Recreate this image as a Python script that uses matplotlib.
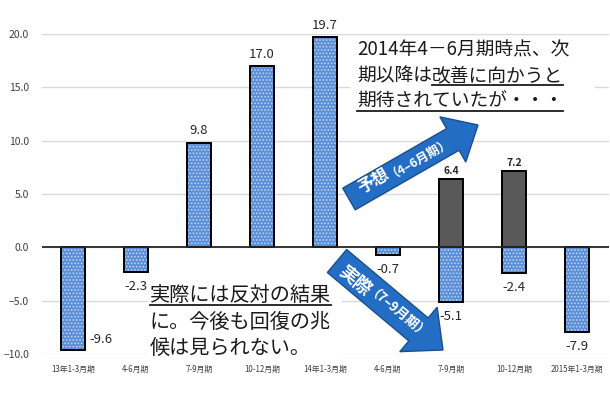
import numpy as np
import matplotlib
matplotlib.use("Agg")
import matplotlib.pyplot as plt
import matplotlib.transforms as mtransforms
from matplotlib.patches import FancyArrow, Rectangle
from matplotlib.lines import Line2D

plt.rcParams['font.family'] = ['Noto Sans CJK JP', 'DejaVu Sans']
plt.rcParams['hatch.linewidth'] = 0.8

# --- data ---
quarters = ["13年1-3月期", "4-6月期", "7-9月期", "10-12月期", "14年1-3月期",
            "4-6月期", "7-9月期", "10-12月期", "2015年1-3月期"]
actual = [-9.6, -2.3, 9.8, 17.0, 19.7, -0.7, -5.1, -2.4, -7.9]
forecast = [np.nan, np.nan, np.nan, np.nan, np.nan, np.nan, 6.4, 7.2, np.nan]
yticks = [-10, -5, 0, 5, 10, 15, 20]

W, H = 610, 395
fig = plt.figure(figsize=(W / 100, H / 100), dpi=100)
ax = fig.add_axes([41.5 / W, 1 - 354 / H, 567 / W, 320 / H])

# --- bars ---
x = np.arange(len(quarters))
bw = 0.39
ax.bar(x, actual, bw, color='#5b8ed6', edgecolor='#bcd3f3', linewidth=0,
       hatch='.....', zorder=2)
ax.bar(x, actual, bw, fill=False, edgecolor='black', linewidth=1.4, zorder=3)
ax.bar(x, forecast, bw, color='#595959', edgecolor='black', linewidth=1.4, zorder=3)

# --- axes styling ---
ax.set_xlim(-0.5, len(quarters) - 0.5)
ax.set_ylim(-10, 20)
ax.set_yticks(yticks)
ax.yaxis.set_major_formatter('{x:.1f}')
ax.grid(axis='y', color='#d9d9d9', lw=1)
ax.set_axisbelow(True)
ax.axhline(0, color='#262626', lw=1.3, zorder=4)
for s in ax.spines.values():
    s.set_visible(False)
ax.tick_params(length=0)
ax.tick_params(axis='y', labelsize=7.5, labelcolor='#404040', pad=9)
ax.set_xticks(x, quarters)
ax.tick_params(axis='x', labelsize=5.7, labelcolor='#404040', pad=8)

# --- value labels ---
for i, v in enumerate(actual):
    if i == 0:
        ax.annotate(f"{v:.1f}", (i, v), xytext=(28, 10), textcoords='offset pixels',
                    ha='center', va='center', fontsize=9.5, color='#262626',
                    arrowprops=dict(arrowstyle='-', color='#a6a6a6', lw=0.7,
                                    shrinkA=6, shrinkB=2))
    else:
        off = -14.5 if v < 0 else 12
        ax.annotate(f"{v:.1f}", (i, v), xytext=(0, off), textcoords='offset pixels',
                    ha='center', va='center', fontsize=9.5, color='#262626')
for i, v in enumerate(forecast):
    if not np.isnan(v):
        ax.annotate(f"{v:.1f}", (i, v), xytext=(0, 8), textcoords='offset pixels',
                    ha='center', va='center', fontsize=7.5, fontweight='bold',
                    color='#262626')

# --- annotations in pixel coords (origin top-left) ---
px = mtransforms.Affine2D().scale(1, -1).translate(0, H)

fig.add_artist(Rectangle((350, 36), 245, 82, transform=px, facecolor='white',
                         edgecolor='none', zorder=3))
fig.add_artist(Rectangle((148, 281), 194, 80, transform=px, facecolor='white',
                         edgecolor='none', zorder=3))

tc = '#1a1a1a'


def line_text(x0, y0, parts, fs):
    """parts: list of (text, underlined)"""
    fig.canvas.draw()
    r = fig.canvas.get_renderer()
    cx = x0
    for s, ul in parts:
        t = fig.text(cx, y0, s, transform=px, fontsize=fs, color=tc,
                     ha='left', va='baseline', zorder=4)
        bb = t.get_window_extent(r)
        if ul:
            fig.add_artist(Line2D([cx, cx + bb.width], [y0 + 3.5, y0 + 3.5],
                                  transform=px, color=tc, lw=1.3, zorder=4))
        cx += bb.width


line_text(357, 55, [("2014年4－6月期時点、次", False)], 13.5)
line_text(357, 81, [("期以降は", False), ("改善に向かうと", True)], 13.5)
line_text(357, 107, [("期待されていたが・・・", True)], 13.5)

line_text(150, 301, [("実際には反対の結果", True)], 14.5)
line_text(150, 328, [("に。今後も回復の兆", False)], 14.5)
line_text(150, 354, [("候は見られない。", False)], 14.5)

# arrows
arr_kw = dict(transform=px, facecolor='#236ec4', edgecolor='#1b4e8c', lw=1,
              length_includes_head=True, zorder=5)
fig.add_artist(FancyArrow(349, 199, 129, -74, width=25, head_width=52,
                          head_length=29, **arr_kw))
fig.add_artist(FancyArrow(337, 261, 106, 89, width=30, head_width=58,
                          head_length=32, **arr_kw))

at_kw = dict(transform=px, color='white', fontweight='bold', ha='center',
             va='center', rotation_mode='anchor', zorder=6)
fig.text(374, 181, "予想", fontsize=12, rotation=30, **at_kw)
fig.text(418, 155.5, "（4–6月期）", fontsize=9, rotation=30, **at_kw)
fig.text(355, 281, "実際", fontsize=13, rotation=-40, **at_kw)
fig.text(396, 316, "（7–9月期）", fontsize=9.5, rotation=-40, **at_kw)

fig.savefig("out.png", dpi=100)
